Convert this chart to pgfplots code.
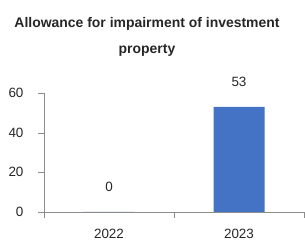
\documentclass[border=0pt]{standalone}
\usepackage{pgfplots}
\pgfplotsset{compat=1.18}
\usepackage{fontspec}
\setmainfont{Liberation Sans}
\definecolor{barblue}{HTML}{4472C4}
\definecolor{axgray}{HTML}{8C8C8C}
\definecolor{txt}{HTML}{262626}
\begin{document}
\begin{tikzpicture}
\begin{axis}[
  name=ax,
  scale only axis,
  width=260bp, height=119bp,
  xmin=-0.5, xmax=1.5,
  ymin=0, ymax=60,
  axis x line=bottom, axis y line=left,
  axis line style={axgray, -},
  ytick={0,20,40,60},
  xtick={-0.5,0.5,1.5},
  xticklabels={2022,2023},
  x tick label as interval,
  tick align=outside,
  major tick length=6bp,
  tick style={axgray},
  /pgf/number format/assume math mode=true,
  ticklabel style={font=\fontsize{13.5}{15}\selectfont, text=txt},
  yticklabel style={xshift=-11bp},
  xticklabel style={yshift=-8bp},
  nodes near coords,
  every node near coord/.append style={font=\fontsize{13.5}{15}\selectfont, text=txt, yshift=17bp},
  clip=false,
]
\addplot[ybar, bar width=51bp, fill=barblue, draw=none] coordinates {(0,0) (1,53)};
\end{axis}
\node[font=\bfseries\fontsize{14}{16}\selectfont, text=txt] at ([shift={(103bp,188bp)}]ax.south west) {Allowance for impairment of investment};
\node[font=\bfseries\fontsize{14}{16}\selectfont, text=txt] at ([shift={(103bp,162bp)}]ax.south west) {property};
\pgfresetboundingbox
\path[use as bounding box] ([shift={(-44bp,-33bp)}]ax.south west) rectangle ([shift={(1bp,93bp)}]ax.north east);
\end{tikzpicture}
\end{document}
